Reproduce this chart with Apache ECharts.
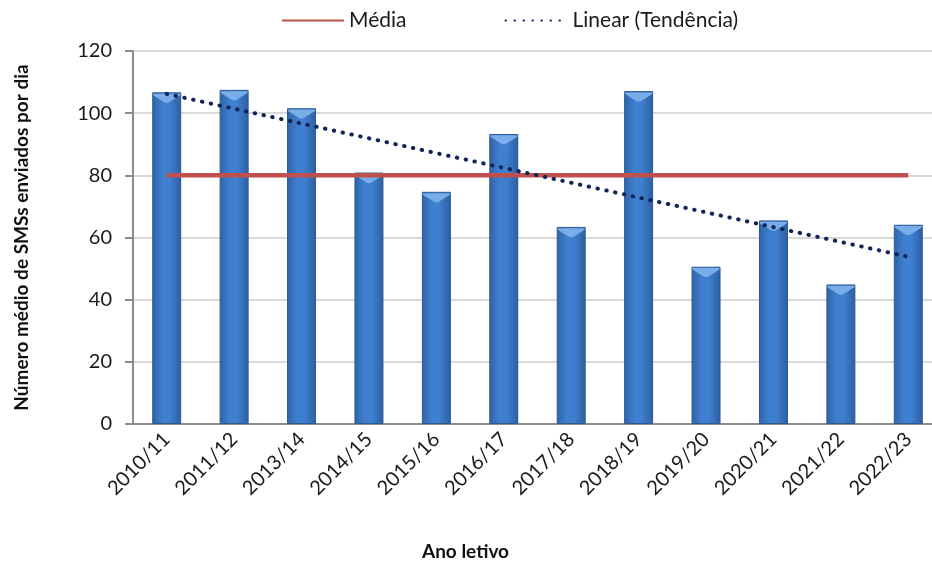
<!DOCTYPE html>
<html>
<head>
<meta charset="utf-8">
<script src="https://cdn.jsdelivr.net/npm/echarts@6/dist/echarts.min.js"></script>
<style>
  html, body { margin: 0; padding: 0; background: #fff; overflow: hidden; }
  #chart { width: 942px; height: 567px; }
</style>
</head>
<body>
<div id="chart"></div>
<script>
  // anos letivos
  var anos = ['2010/11', '2011/12', '2013/14', '2014/15', '2015/16', '2016/17',
              '2017/18', '2018/19', '2019/20', '2020/21', '2021/22', '2022/23'];
  // número médio de SMSs por dia
  var smsDia = [106.7, 107.5, 101.6, 80.9, 74.7, 93.3, 63.4, 107.1, 50.6, 65.5, 44.9, 64.1];
  var media = 80.0;
  var mediaSerie = anos.map(function () { return media; });
  // tendência linear (pontos extremos)
  var tendencia = [106.2, null, null, null, null, null, null, null, null, null, null, 53.8];
  var yTicks = [0, 20, 40, 60, 80, 100, 120];

  var font = 'Lato, "Open Sans", sans-serif';
  var chart = echarts.init(document.getElementById('chart'));

  // o gráfico original está cortado à direita: a área do gráfico passa da janela
  chart.setOption({
    animation: false,
    textStyle: { fontFamily: font },
    legend: {
      top: 5,
      left: 276,
      itemWidth: 62,
      itemHeight: 10,
      itemGap: 98,
      itemStyle: { opacity: 0 },
      textStyle: { fontSize: 21, color: '#1a1a1a', fontFamily: font },
      data: ['Média', 'Linear (Tendência)']
    },
    grid: { left: 133, top: 51, right: 0, height: 373, containLabel: false },
    xAxis: {
      type: 'category',
      data: anos,
      name: 'Ano letivo',
      nameLocation: 'middle',
      nameGap: 118,
      nameTextStyle: { fontSize: 19, fontWeight: 'bold', color: '#111', padding: [0, 144, 0, 0] },
      axisLine: { lineStyle: { color: '#8c8c8c', width: 2 } },
      axisTick: { show: false },
      axisLabel: { rotate: 45, fontSize: 20, color: '#1a1a1a', margin: 12 }
    },
    yAxis: {
      type: 'value',
      min: yTicks[0],
      max: yTicks[yTicks.length - 1],
      interval: 20,
      name: 'Número médio de SMSs enviados por dia',
      nameLocation: 'middle',
      nameGap: 102,
      nameTextStyle: { fontSize: 19, fontWeight: 'bold', color: '#111' },
      axisLine: { show: true, lineStyle: { color: '#8c8c8c', width: 2 } },
      axisTick: { show: true, length: 8, lineStyle: { color: '#8c8c8c', width: 2 } },
      axisLabel: { fontSize: 20, color: '#1a1a1a', margin: 21 },
      splitLine: { lineStyle: { color: '#d9d9d9', width: 2 } }
    },
    series: [
      {
        name: 'SMS',
        type: 'bar',
        data: smsDia,
        barWidth: 29,
        z: 2,
        itemStyle: {
          borderColor: '#2c5a94',
          borderWidth: 1,
          color: new echarts.graphic.LinearGradient(0, 0, 1, 0, [
            { offset: 0, color: '#2f63a6' },
            { offset: 0.35, color: '#3f7fcf' },
            { offset: 0.6, color: '#3f7fcf' },
            { offset: 1, color: '#2d5e9f' }
          ])
        }
      },
      {
        // bisel no topo das barras
        name: 'topo',
        type: 'pictorialBar',
        data: smsDia,
        symbol: 'path://M0,0 L10,0 L10,0.5 L5.6,3 L4.4,3 L0,0.5 Z',
        symbolSize: [27, 9],
        symbolPosition: 'end',
        symbolOffset: [0, '15%'],
        z: 3,
        itemStyle: { color: '#78ade9' },
        silent: true
      },
      {
        name: 'Média',
        type: 'line',
        data: mediaSerie,
        symbol: 'none',
        z: 4,
        lineStyle: { color: '#c0504d', width: 4.5 },
        itemStyle: { color: '#c0504d' }
      },
      {
        name: 'Linear (Tendência)',
        type: 'line',
        data: tendencia,
        connectNulls: true,
        symbol: 'none',
        z: 5,
        lineStyle: { color: '#0f2557', width: 4, type: [0.5, 8.5], cap: 'round' },
        itemStyle: { color: '#0f2557' }
      }
    ]
  });
</script>
</body>
</html>
